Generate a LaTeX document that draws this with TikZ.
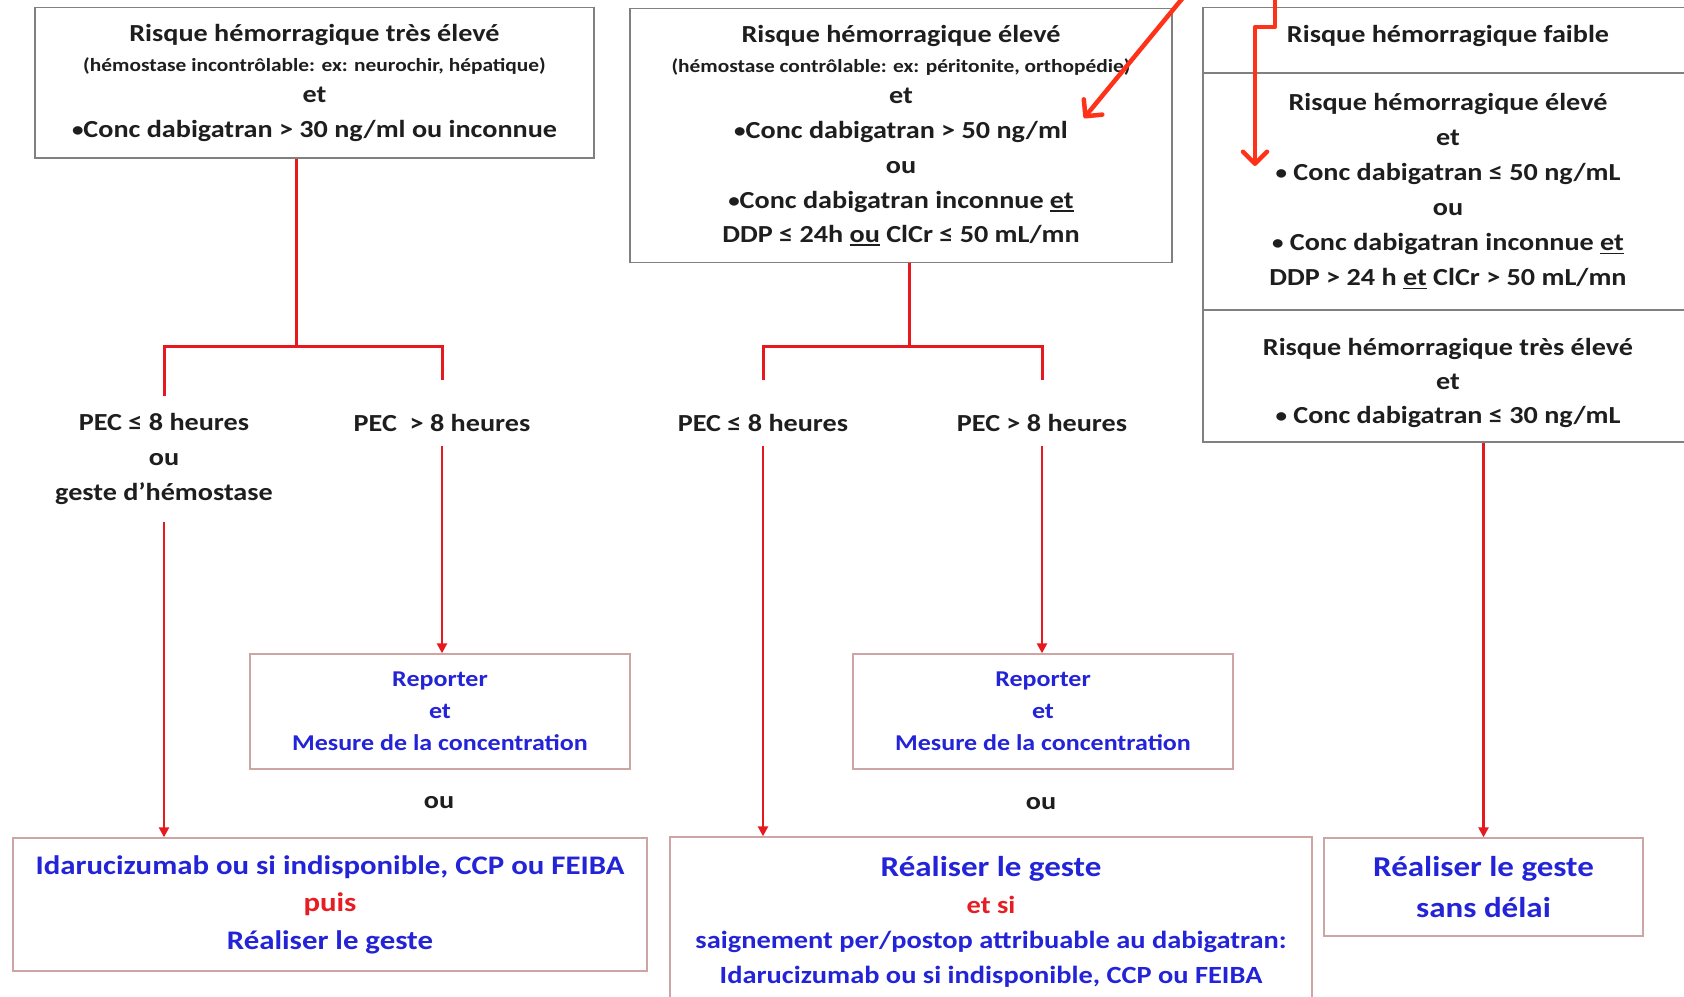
\documentclass[tikz,border=0pt]{standalone}
\usepackage{fontspec}
\newfontfamily\cf{Carlito}[FakeStretch=1.15]
\usetikzlibrary{arrows.meta}
\definecolor{boxgray}{RGB}{128,128,128}
\definecolor{boxpink}{RGB}{205,165,165}
\definecolor{txtdark}{RGB}{30,30,30}
\definecolor{txtblue}{RGB}{35,35,215}
\definecolor{txtred}{RGB}{230,30,35}
\definecolor{treered}{RGB}{230,25,30}
\definecolor{annor}{RGB}{255,50,25}
\newcommand\fs[2]{\fontsize{#1}{#2}\selectfont}
\newcommand\myul[1]{\setbox0\hbox{#1}\rlap{\rule[-3.5pt]{\wd0}{1.4pt}}\box0\relax}
\newcommand\bul{\raisebox{1pt}{\fs{20}{20}•}}
\begin{document}
\begin{tikzpicture}[x=1pt,y=-1pt,
  topbox/.style={draw=boxgray, line width=1.4pt, align=center, text=txtdark,
    font=\cf\bfseries\fs{24.5}{35}, inner sep=0pt},
  botbox/.style={draw=boxpink, line width=1.4pt, align=center, text=txtblue, inner sep=0pt},
  lbl/.style={align=center, text=txtdark, font=\cf\bfseries\fs{24.5}{35}, inner sep=0pt},
  tree/.style={draw=treered, line width=3pt},
  arr/.style={draw=treered, line width=2.4pt, -{Triangle[length=10pt,width=10pt]}},
  annot/.style={draw=annor, line width=4.5pt, line cap=round, line join=round,
    -{Straight Barb[length=12pt,width=24pt,round]}}]
\path[use as bounding box] (0,0) rectangle (1684,996);
\clip (0,0) rectangle (1684,996);
\fill[white] (0,0) rectangle (1684,996);

% ---- top boxes
\node[topbox, minimum width=559, minimum height=150.5] (b1) at (314.5,82.75)
  {Risque hémorragique très élevé\\[-5pt]
   {\fs{18.6}{20}(hémostase incontrôlable: ex: neurochir, hépatique)}\\[-4pt]
   et\\
   \bul Conc dabigatran > 30 ng/ml ou inconnue};

\node[topbox, minimum width=542, minimum height=253.5] (b2) at (901,135.5)
  {Risque hémorragique élevé\\[-5pt]
   {\fs{18.6}{20}(hémostase contrôlable: ex: péritonite, orthopédie)}\\[-4pt]
   et\\
   \bul Conc dabigatran > 50 ng/ml\\
   ou\\
   \bul Conc dabigatran inconnue \myul{et}\\[-1pt]
   DDP ≤ 24h \myul{ou} ClCr ≤ 50 mL/mn};

\node[topbox, minimum width=490, minimum height=65.5] (r1) at (1448,40.25)
  {Risque hémorragique faible\rule[-12pt]{0pt}{1pt}};
\node[topbox, minimum width=490, minimum height=237] (r2) at (1448,191.5)
  {Risque hémorragique élevé\\
   et\\
   \bul\ Conc dabigatran ≤ 50 ng/mL\\
   ou\\
   \bul\ Conc dabigatran inconnue \myul{et}\\
   DDP > 24 h \myul{et} ClCr > 50 mL/mn};
\node[topbox, minimum width=490, minimum height=132] (r3) at (1448,376)
  {\rule{0pt}{32pt}Risque hémorragique très élevé\\[-1pt]
   et\\[-1pt]
   \bul\ Conc dabigatran ≤ 30 ng/mL};

% ---- branch labels
\node[lbl] (p1a) at (164,459) {PEC ≤ 8 heures\\ou\\geste d’hémostase};
\node[lbl] (p1b) at (442,423) {PEC~~> 8 heures};
\node[lbl] (p2a) at (763,423) {PEC ≤ 8 heures};
\node[lbl] (p2b) at (1042,423) {PEC > 8 heures};

% ---- result boxes
\node[botbox, minimum width=380, minimum height=115, font=\cf\bfseries\fs{22.6}{32}] (rep1) at (440,711.5)
  {Reporter\\et\\Mesure de la concentration};
\node[lbl] (ou1) at (439,803) {ou};
\node[botbox, minimum width=634, minimum height=133, font=\cf\bfseries\fs{26.8}{37.5}] (ida1) at (330,904.5)
  {Idarucizumab ou si indisponible, CCP ou FEIBA\\
   \textcolor{txtred}{puis}\\
   Réaliser le geste};

\node[botbox, minimum width=380, minimum height=115, font=\cf\bfseries\fs{22.6}{32}] (rep2) at (1043,711.5)
  {Reporter\\et\\Mesure de la concentration};
\node[lbl] (ou2) at (1041,804) {ou};
\node[botbox, minimum width=642, minimum height=170, font=\cf\bfseries\fs{24.7}{35}] (real2) at (991,922)
  {{\fs{28.7}{35}Réaliser le geste}\\[2pt]
   \textcolor{txtred}{et si}\\
   saignement per/postop attribuable au dabigatran:\\
   Idarucizumab ou si indisponible, CCP ou FEIBA};

\node[botbox, minimum width=319, minimum height=98, font=\cf\bfseries\fs{28.7}{41}] (sd) at (1483.5,887)
  {Réaliser le geste\\sans délai};

% ---- tree connectors, column 1
\coordinate (j1) at (296,346);
\draw[tree] (b1.south -| j1) -- (j1);
\draw[tree] ([yshift=17pt]p1a.north) -- (p1a.north |- j1) -- (p1b.north |- j1) -- ([yshift=34pt]p1b.north);
\draw[arr] ([yshift=-17pt]p1a.south) -- (p1a.south |- ida1.north);
\draw[arr] ([yshift=-14pt]p1b.south) -- (p1b.south |- rep1.north);

% ---- tree connectors, column 2
\coordinate (j2) at (909,346);
\draw[tree] (b2.south -| j2) -- (j2);
\draw[tree] ([yshift=34pt]p2a.north) -- (p2a.north |- j2) -- (p2b.north |- j2) -- ([yshift=34pt]p2b.north);
\draw[arr] ([yshift=-14pt]p2a.south) -- (p2a.south |- real2.north);
\draw[arr] ([yshift=-14pt]p2b.south) -- (p2b.south |- rep2.north);

% ---- column 3
\draw[arr] (sd.north |- r3.south) -- (sd.north);

% ---- annotation arrows
\coordinate (a1s) at (1186,-6);
\coordinate (a1e) at (1084,118);
\draw[annot] (a1s) -- (a1e);
\coordinate (a2s) at (1275,-6);
\coordinate (a2k) at (1255,27);
\coordinate (a2e) at (1255,166);
\draw[annot] (a2s) |- (a2k) -- (a2e);
\end{tikzpicture}
\end{document}
